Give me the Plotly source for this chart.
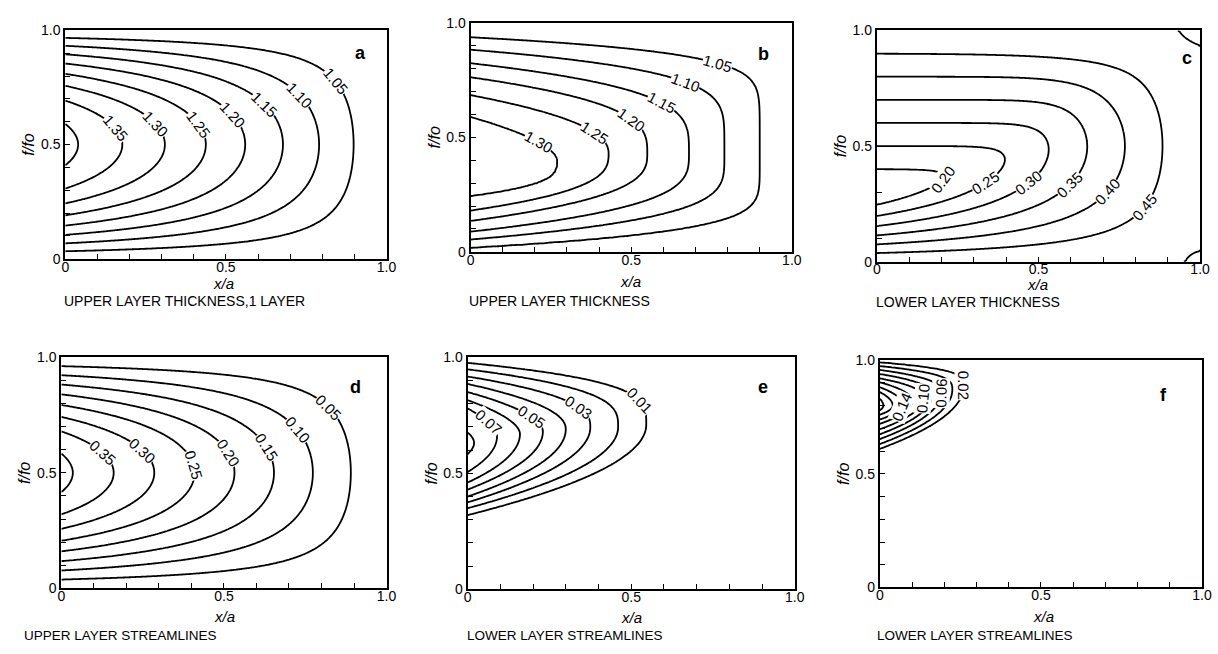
import numpy as np
import plotly.graph_objects as go

W_FIG, H_FIG = 1218, 654
FONT = "Liberation Sans, Arial, sans-serif"

# ---------------- data ----------------
# (a) upper layer thickness, 1 layer:  h^2 = H_east^2 + forcing*(1-x)*sin(pi f)
levels_a = [1.05, 1.10, 1.15, 1.20, 1.25, 1.30, 1.35, 1.40]
h_east_a = 1.0
forcing_a = 1.0
label_levels_a = [1.05, 1.10, 1.15, 1.20, 1.25, 1.30, 1.35]
label_x_a = [0.84, 0.73, 0.62, 0.52, 0.415, 0.28, 0.155]

# (b) upper layer thickness (2 layers): contour family
levels_b = [1.05, 1.10, 1.15, 1.20, 1.25, 1.30]
nose_x_b = [0.90, 0.79, 0.68, 0.55, 0.43, 0.27]
nose_y_b = [0.41, 0.43, 0.43, 0.43, 0.43, 0.40]
edge_lo_b = [0.017, 0.054, 0.088, 0.135, 0.18, 0.243]
edge_hi_b = [0.936, 0.882, 0.823, 0.762, 0.684, 0.589]
shape_lo_b = [5.5, 4.0, 3.2, 2.8, 2.8, 3.2]
shape_hi_b = [8.0, 5.0, 3.6, 3.0, 2.2, 1.75]
label_x_b = [0.77, 0.67, 0.595, 0.50, 0.385, 0.21]

# (c) lower layer thickness: pool h2 = slope*f, elsewhere h2 = east - amp*(1-x)*sin(pi f)
levels_c = [0.20, 0.25, 0.30, 0.35, 0.40, 0.45, 0.50]
pool_slope_c = 0.5
east_c = 0.5
amp_c = 0.43
smooth_c = 0.02
corner_x_c = [1.0, 1.0]
corner_y_c = [1.0, 0.0]
corner_r_c = [0.065, 0.045]
corner_amp_c = 0.012
label_levels_c = [0.20, 0.25, 0.30, 0.35, 0.40, 0.45]
label_x_c = [0.204, 0.337, 0.47, 0.597, 0.714, 0.827]

# (d) upper layer streamlines: psi = amp*(1-x)^p*sin(pi f)
levels_d = [0.05, 0.10, 0.15, 0.20, 0.25, 0.30, 0.35, 0.40]
amp_d = 0.414
pow_d = 0.957
label_levels_d = [0.05, 0.10, 0.15, 0.20, 0.25, 0.30, 0.35]
label_x_d = [0.822, 0.726, 0.63, 0.513, 0.406, 0.249, 0.127]

# (e) lower layer streamlines
levels_e = [0.01, 0.02, 0.03, 0.04, 0.05, 0.06, 0.07, 0.08]
nose_x_e = [0.546, 0.46, 0.375, 0.30, 0.23, 0.16, 0.09, 0.02]
nose_y_e = [0.71, 0.70, 0.70, 0.69, 0.68, 0.67, 0.66, 0.63]
edge_lo_e = [0.32, 0.35, 0.375, 0.40, 0.43, 0.46, 0.505, 0.585]
edge_hi_e = [0.976, 0.948, 0.917, 0.885, 0.85, 0.815, 0.78, 0.675]
shape_lo_e = [2.0, 2.0, 2.0, 2.0, 2.0, 2.0, 2.0, 2.0]
shape_hi_e = [3.5, 3.0, 2.5, 2.1, 1.9, 1.8, 1.8, 2.0]
label_levels_e = [0.01, 0.03, 0.05, 0.07]
label_x_e = [0.526, 0.34, 0.194, 0.0625]

# (f) lower layer streamlines (second case)
levels_f = [0.02, 0.04, 0.06, 0.08, 0.10, 0.12, 0.14, 0.16, 0.18]
nose_x_f = [0.26, 0.225, 0.19, 0.162, 0.135, 0.10, 0.07, 0.04, 0.012]
nose_y_f = [0.885, 0.87, 0.855, 0.845, 0.835, 0.82, 0.805, 0.80, 0.80]
edge_lo_f = [0.61, 0.631, 0.653, 0.674, 0.696, 0.72, 0.739, 0.76, 0.78]
edge_hi_f = [0.991, 0.974, 0.957, 0.939, 0.92, 0.903, 0.881, 0.86, 0.83]
shape_lo_f = [2.0, 2.0, 2.0, 2.0, 2.0, 2.0, 2.0, 2.0, 2.0]
shape_hi_f = [3.6, 3.2, 2.8, 2.5, 2.3, 2.1, 2.0, 2.0, 2.0]
label_levels_f = [0.02, 0.06, 0.10, 0.14]
label_y_f = [0.889, 0.853, 0.83, 0.796]

titles = ["UPPER LAYER THICKNESS,1 LAYER", "UPPER LAYER THICKNESS", "LOWER LAYER THICKNESS",
          "UPPER LAYER STREAMLINES", "LOWER LAYER STREAMLINES", "LOWER LAYER STREAMLINES"]
letters = ["a", "b", "c", "d", "e", "f"]
tick_vals = [round(0.1 * i, 1) for i in range(11)]
tick_text = ["0", "", "", "", "", "0.5", "", "", "", "", "1.0"]

# ---------------- layout geometry (pixels) ----------------
panel_px = [(62, 387, 23, 257), (472, 797, 15, 250), (883, 1210, 23, 260),
            (58, 387, 358, 595), (469, 800, 358, 596), (886, 1212, 361, 594)]
title_pos = [(59, 300), (468, 300), (880, 301), (18, 643), (466, 643), (881, 643)]
title_size = [14, 14, 14, 13.5, 13.5, 13.5]
xlabel_pos = [(222, 282), (634, 280), (1046, 283), (223, 624), (635, 625), (1052, 624)]
letter_pos = [(0.92, 0.90), (0.913, 0.865), (0.96, 0.88), (0.903, 0.873), (0.904, 0.871), (0.88, 0.846)]


# ---------------- fields ----------------
def field_a(X, Y):
    return np.sqrt(h_east_a ** 2 + forcing_a * (1 - X) * np.sin(np.pi * Y))


def field_c(X, Y):
    X = np.asarray(X, float)
    Y = np.asarray(Y, float)
    A = pool_slope_c * Y
    B = east_c - amp_c * (1 - X) * np.sin(np.pi * Y)
    k = (smooth_c * np.clip((1 - Y) / 0.08, 0, 1) * np.clip(Y / 0.08, 0, 1)
         * np.clip((1 - X) / 0.08, 0, 1))
    mx = np.maximum(A, B)
    ks = np.maximum(k, 1e-12)
    extra = np.where(k > 1e-9, ks * np.log1p(np.exp(-np.abs(A - B) / ks)), 0.0)
    val = mx + extra - 1e-9
    for cx, cy, cr in zip(corner_x_c, corner_y_c, corner_r_c):
        r = np.hypot(X - cx, Y - cy)
        val = val + corner_amp_c * np.clip(1 - r / cr, 0, None)
    return val


def field_d(X, Y):
    return amp_d * np.clip(1 - X, 0, None) ** pow_d * np.sin(np.pi * Y)


def make_family(vals, nx, ny, lo, hi, mlo, mhi):
    vals = np.asarray(vals, float)
    nx, ny, lo, hi, mlo, mhi = [np.asarray(v, float) for v in (nx, ny, lo, hi, mlo, mhi)]
    idx = np.arange(len(vals), dtype=float)

    def F(X, Y):
        X = np.asarray(X, float)
        Y = np.asarray(Y, float)

        def inside(t):
            xn = np.interp(t, idx, nx)
            yc = np.interp(t, idx, ny)
            l = np.interp(t, idx, lo)
            h = np.interp(t, idx, hi)
            ml = np.interp(t, idx, mlo)
            mh = np.interp(t, idx, mhi)
            d = Y - yc
            up = d >= 0
            D = np.where(up, h - yc, yc - l)
            m = np.where(up, mh, ml)
            r = np.minimum(np.abs(d) / np.maximum(D, 1e-9), 2.0)
            xb = np.where(r < 1, xn * (1 - r ** m), -1.0)
            return X < xb

        a = np.zeros(X.shape)
        b = np.full(X.shape, idx[-1])
        in0 = inside(a)
        inN = inside(b)
        for _ in range(36):
            mid = 0.5 * (a + b)
            ins = inside(mid)
            a = np.where(ins, mid, a)
            b = np.where(ins, b, mid)
        t = np.where(~in0, 0.0, np.where(inN, idx[-1], 0.5 * (a + b)))
        return np.interp(t, idx, vals)

    return F


field_b = make_family([1.0] + levels_b + [1.335], [1.0] + nose_x_b + [-0.05], [0.41] + nose_y_b + [0.40],
                      [0.0] + edge_lo_b + [0.33], [1.0] + edge_hi_b + [0.47],
                      [shape_lo_b[0]] + shape_lo_b + [2.0], [shape_hi_b[0]] + shape_hi_b + [2.0])
field_e = make_family([0.0] + levels_e + [0.085], [0.63] + nose_x_e + [-0.03], [0.71] + nose_y_e + [0.63],
                      [0.29] + edge_lo_e + [0.60], [0.999] + edge_hi_e + [0.66],
                      [shape_lo_e[0]] + shape_lo_e + [2.0], [shape_hi_e[0]] + shape_hi_e + [2.0])
field_f = make_family([0.0] + levels_f + [0.19], [0.30] + nose_x_f + [-0.02], [0.89] + nose_y_f + [0.80],
                      [0.585] + edge_lo_f + [0.795], [0.9995] + edge_hi_f + [0.805],
                      [shape_lo_f[0]] + shape_lo_f + [2.0], [shape_hi_f[0]] + shape_hi_f + [2.0])

fields = [field_a, field_b, field_c, field_d, field_e, field_f]
level_sets = [levels_a, levels_b, levels_c, levels_d, levels_e, levels_f]
# (levels, positions, mode): mode 'upper'/'lower' = position is x on that arm; 'nose' = position is y
label_sets = [(label_levels_a, label_x_a, "upper"), (levels_b, label_x_b, "upper"),
              (label_levels_c, label_x_c, "lower"), (label_levels_d, label_x_d, "upper"),
              (label_levels_e, label_x_e, "upper"), (label_levels_f, label_y_f, "nose")]

N = 161
xg = np.linspace(0, 1, N)
yg = np.linspace(0, 1, N)
XX, YY = np.meshgrid(xg, yg)


def label_spec(F, level, pos, mode, wpx, hpx):
    s_ = np.linspace(0.0005, 0.9995, 2000)
    if mode == "nose":
        xs, ys = s_, np.full_like(s_, pos)
    else:
        xs, ys = np.full_like(s_, pos), s_
    v = F(xs, ys) - level
    sg = np.sign(v)
    cross = np.where(sg[:-1] * sg[1:] < 0)[0]
    if len(cross) == 0:
        return None
    i = cross[0] if mode == "lower" else cross[-1]
    frac = v[i] / (v[i] - v[i + 1])
    if mode == "nose":
        xl, yl = s_[i] + frac * (s_[i + 1] - s_[i]), pos
    else:
        xl, yl = pos, s_[i] + frac * (s_[i + 1] - s_[i])
    h = 2e-3
    fx = (F(np.array([xl + h]), np.array([yl])) - F(np.array([xl - h]), np.array([yl])))[0] / (2 * h)
    fy = (F(np.array([xl]), np.array([yl + h])) - F(np.array([xl]), np.array([yl - h])))[0] / (2 * h)
    tx, ty = fy, -fx
    ang = np.degrees(np.arctan2(-ty * hpx, tx * wpx))
    while ang > 90:
        ang -= 180
    while ang <= -90:
        ang += 180
    return xl, yl, ang


fig = go.Figure()
annotations = []
layout_axes = {}

for i in range(6):
    n = "" if i == 0 else str(i + 1)
    xr, yr = "x" + n, "y" + n
    x0, x1, y0p, y1p = panel_px[i]
    wpx, hpx = x1 - x0, y1p - y0p
    F = fields[i]
    Z = F(XX, YY)
    lv = level_sets[i]
    fig.add_trace(go.Contour(
        x=xg, y=yg, z=Z, xaxis=xr, yaxis=yr,
        contours=dict(coloring="lines", start=lv[0], end=lv[-1] + 1e-6, size=round(lv[1] - lv[0], 4),
                      showlabels=False),
        line=dict(width=1.8, smoothing=1.0),
        colorscale=[[0, "black"], [1, "black"]], showscale=False, hoverinfo="skip"))

    axis_common = dict(range=[0, 1], tickmode="array", tickvals=tick_vals, ticktext=tick_text,
                       ticks="inside", ticklen=5, tickwidth=1.4, tickcolor="black",
                       showline=True, linewidth=2, linecolor="black", mirror=True,
                       showgrid=False, zeroline=False,
                       tickfont=dict(family=FONT, size=14, color="black"))
    layout_axes["xaxis" + n] = dict(axis_common, domain=[x0 / W_FIG, x1 / W_FIG], anchor=yr,
                                    ticklabelstandoff=-6)
    layout_axes["yaxis" + n] = dict(axis_common, domain=[1 - y1p / H_FIG, 1 - y0p / H_FIG], anchor=xr,
                                    title=dict(text="<i>f/fo</i>", standoff=2,
                                               font=dict(family=FONT, size=16, color="black")))

    # contour labels
    lvls, poss, mode = label_sets[i]
    for lvl, pos in zip(lvls, poss):
        spec = label_spec(F, lvl, pos, mode, wpx, hpx)
        if spec is None:
            continue
        lx, ly, ang = spec
        annotations.append(dict(x=lx, y=ly, xref=xr, yref=yr, text=f"{lvl:.2f}", showarrow=False,
                                textangle=ang, bgcolor="white", borderpad=0,
                                font=dict(family=FONT, size=15, color="black")))
    # panel letter
    lxp, lyp = letter_pos[i]
    annotations.append(dict(x=lxp, y=lyp, xref=xr + " domain", yref=yr + " domain",
                            xanchor="center", yanchor="middle",
                            text="<b>" + letters[i] + "</b>", showarrow=False,
                            font=dict(family=FONT, size=18, color="black")))
    # x-axis title
    xlx, xly = xlabel_pos[i]
    annotations.append(dict(x=xlx / W_FIG, y=1 - xly / H_FIG, xref="paper", yref="paper",
                            xanchor="center", yanchor="middle", text="<i>x/a</i>", showarrow=False,
                            font=dict(family=FONT, size=15, color="black")))
    # panel caption
    tx, ty = title_pos[i]
    annotations.append(dict(x=tx / W_FIG, y=1 - ty / H_FIG, xref="paper", yref="paper",
                            xanchor="left", yanchor="middle", text=titles[i], showarrow=False,
                            font=dict(family=FONT, size=title_size[i], color="black")))

fig.update_layout(width=W_FIG, height=H_FIG, margin=dict(l=0, r=0, t=0, b=0),
                  paper_bgcolor="white", plot_bgcolor="white", showlegend=False,
                  annotations=annotations, **layout_axes)

fig.write_html("out.html", config={"displayModeBar": False},
               post_script="document.body.style.margin='0';document.body.style.overflow='hidden';")
